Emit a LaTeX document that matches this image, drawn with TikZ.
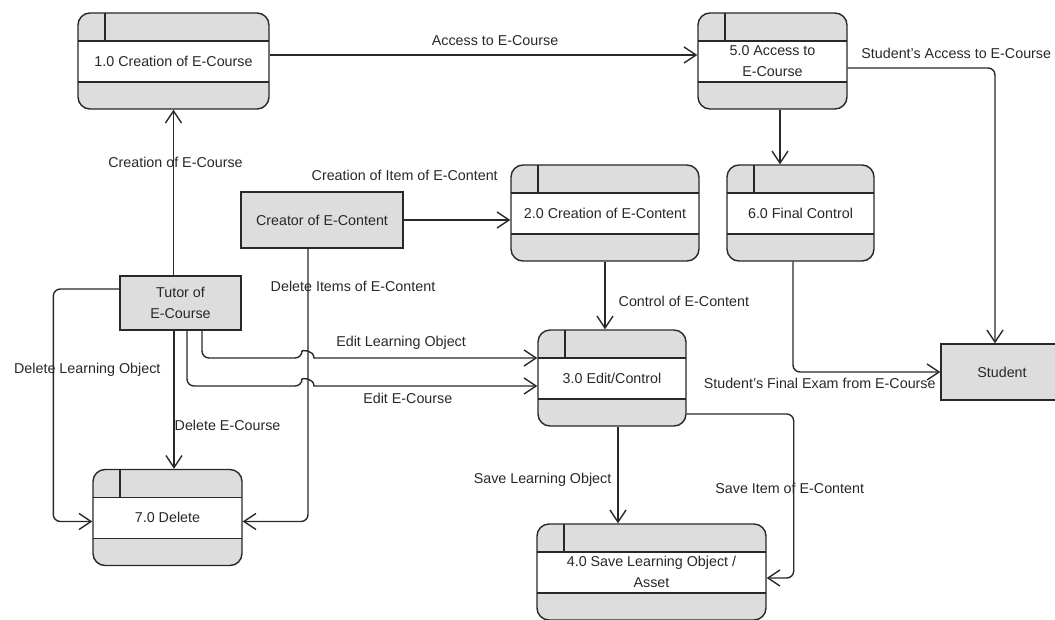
\documentclass[tikz,border=0pt]{standalone}
\usepackage{fontspec}
\setmainfont{Liberation Sans}
\usetikzlibrary{arrows.meta,calc,positioning}
\definecolor{boxgray}{RGB}{221,221,221}
\definecolor{inkgray}{RGB}{40,40,40}

\begin{document}
\begin{tikzpicture}[x=1pt,y=-1pt,->,>={Straight Barb[length=12pt,width=16pt]},
line width=1.4pt, color=inkgray, rounded corners=7pt,
font=\fontsize{14.3}{20.5}\selectfont]
   \tikzstyle{proc}=[rectangle,draw,fill=boxgray,rounded corners=12pt,
     minimum height=96pt,inner sep=2pt,align=center,
     path picture={
       \fill[white,sharp corners] ([yshift=-28pt]path picture bounding box.north west)
         rectangle ([yshift=27pt]path picture bounding box.south east);
       \draw[-,sharp corners]
         ([yshift=-28pt]path picture bounding box.north west) -- ([yshift=-28pt]path picture bounding box.north east)
         ([yshift=27pt]path picture bounding box.south west) -- ([yshift=27pt]path picture bounding box.south east)
         ([xshift=27pt]path picture bounding box.north west) -- ([xshift=27pt,yshift=-28pt]path picture bounding box.north west);
     }]
   \tikzstyle{ext}=[rectangle,draw,fill=boxgray,sharp corners,align=center,inner sep=2pt]
   \tikzstyle{lbl}=[inner sep=0pt]
\useasboundingbox (0,0) rectangle (1055,619);

\node[proc, minimum width=191pt] (p1) at (173.5,61)  {1.0 Creation of E-Course};
\node[proc, minimum width=149pt] (p5) at (772.5,61)  {5.0 Access to\\E-Course};
\node[proc, minimum width=188pt] (p2) at (605,213)   {2.0 Creation of E-Content};
\node[proc, minimum width=147pt] (p6) at (800.5,213) {6.0 Final Control};
\node[proc, minimum width=148pt] (p3) at (612,378)   {3.0 Edit/Control};
\node[proc, minimum width=229pt] (p4) at (651.5,572) {4.0 Save Learning Object /\\Asset};
\node[proc, minimum width=149pt] (p7) at (167.5,517.5) {7.0 Delete};
\node[ext, minimum width=121pt, minimum height=54pt] (tut) at (180.5,303) {Tutor of\\E-Course};
\node[ext, minimum width=162pt, minimum height=56pt] (cr)  at (322,220)   {Creator of E-Content};
\node[ext, minimum width=122pt, minimum height=56pt] (stu) at (1002,372)  {Student};

 \draw (tut.north -| p1.south) -- node[lbl, pos=.68, xshift=2pt] {Creation of E-Course} (p1.south);
 \draw ([yshift=6pt]p1.east) -- node[lbl, pos=.527, above=9pt] {Access to E-Course} ([yshift=6pt]p5.west);
 \draw ([yshift=-7pt]p5.east) -| node[lbl, pos=0, anchor=south west, xshift=13pt, yshift=9pt]
   {Student's Access to E-Course} ([xshift=-7pt]stu.north);
 \draw ([xshift=7.5pt]p5.south) -- ([xshift=7.5pt]p5.south |- p6.north);
 \draw (cr.east) -- node[lbl, pos=0, xshift=1pt, yshift=45pt] {Creation of Item of E-Content} (cr.east -| p2.west);
 \draw (p2.south) -- node[lbl, pos=.58, anchor=west, xshift=13pt] {Control of E-Content} (p2.south |- p3.north);
 \draw ([xshift=-7.5pt]p6.south) |- node[lbl, pos=1, anchor=north east, xshift=-4pt, yshift=-5pt]
   {Student's Final Exam from E-Course} (stu.west);
 \draw ([xshift=6pt]p3.south) -- node[lbl, pos=.55, anchor=east, xshift=-6pt] {Save Learning Object}
   ([xshift=6pt]p3.south |- p4.north);
 \draw ([yshift=-36pt]p3.east) -| node[lbl, pos=.726, xshift=-4pt] {Save Item of E-Content}
   ($(p4.east)+(27,6)$) -- ($(p4.east)+(0,6)$);

 % tutor and creator flows
 \draw ([yshift=14pt]tut.west) -| node[lbl, pos=.674, xshift=34pt] {Delete Learning Object}
   ($(p7.west)+(-39,4)$) -- ($(p7.west)+(0,4)$);
 \draw ([xshift=-6.5pt]tut.south) -- node[lbl, pos=.683, anchor=west] {Delete E-Course}
   ([xshift=-6.5pt]tut.south |- p7.north);
 \draw ([xshift=-14pt]cr.south) |- node[lbl, pos=.069, xshift=45pt] {Delete Items of E-Content}
   ($(p7.east)+(0,4)$);
 \draw ([xshift=21.5pt]tut.south) |- ($(cr.south |- p3.west)+(-20,-20)$) [sharp corners]
   .. controls +(0,-8) and +(0,-8) .. ($(cr.south |- p3.west)+(-8,-20)$)
   -- node[lbl, pos=.39, above=8pt] {Edit Learning Object} ($(p3.west)+(0,-20)$);
 \draw ([xshift=6.5pt]tut.south) |- ($(cr.south |- p3.west)+(-20,8)$) [sharp corners]
   .. controls +(0,-8) and +(0,-8) .. ($(cr.south |- p3.west)+(-8,8)$)
   -- node[lbl, pos=.42, below=6pt] {Edit E-Course} ($(p3.west)+(0,8)$);
\end{tikzpicture}
\end{document}
